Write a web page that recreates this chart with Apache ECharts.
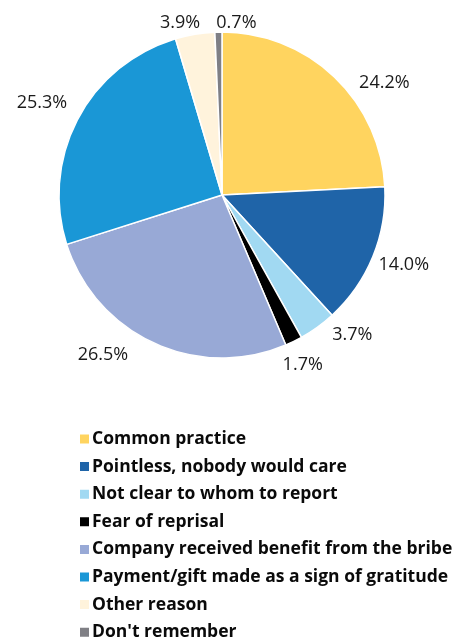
<!DOCTYPE html>
<html><head><meta charset="utf-8">
<script src="https://cdn.jsdelivr.net/npm/echarts@6/dist/echarts.min.js"></script>
<style>html,body{margin:0;padding:0;background:#fff}#c{width:459px;height:639px}</style>
</head><body><div id="c"></div>
<script>
const categories = ["Common practice","Pointless, nobody would care","Not clear to whom to report","Fear of reprisal","Company received benefit from the bribe","Payment/gift made as a sign of gratitude","Other reason","Don't remember"];
const values = [24.2, 14.0, 3.7, 1.7, 26.5, 25.3, 3.9, 0.7];
const colors = ["#FFD45F","#1F64A8","#A1D9F2","#000000","#98A9D6","#1A97D6","#FFF3DC","#7F7F85"];
// label nudges relative to the slice's outer edge point (Excel-style "best fit" placement)
const labelNudge = [[50,6],[31,8],[35,8],[9,23],[-51,12],[-36,-16],[-15,-11],[18,-9]];

const chart = echarts.init(document.getElementById('c'), null, {renderer:'canvas'});
chart.setOption({
  animation:false,
  color: colors,
  legend: {
    orient:'vertical', left:73, top:425, height:400,
    itemWidth:11, itemHeight:11, itemGap:9.6,
    icon:'rect',
    textStyle:{fontFamily:'Open Sans', fontWeight:'bold', fontSize:17.5, color:'#0a0a0a', padding:[0,0,0,-3]},
    data: categories
  },
  series:[{
    type:'pie',
    center:[222,195], radius:[0,163],
    startAngle:90, clockwise:true,
    itemStyle:{borderColor:'#fff', borderWidth:1.5},
    label:{show:true, position:'outside', formatter: p => p.value.toFixed(1)+'%', fontFamily:'Open Sans', fontSize:18, color:'#1a1a1a'},
    labelLine:{show:true, length:5, length2:2, lineStyle:{width:0, opacity:0}},
    labelLayout: function(params){
      const p0 = params.labelLinePoints ? params.labelLinePoints[0] : null;
      if(!p0) return {};
      const n = labelNudge[params.dataIndex];
      return {x:p0[0]+n[0], y:p0[1]+n[1], align:'center', verticalAlign:'middle'};
    },
    data: categories.map((n,i)=>({name:n, value:values[i]}))
  }]
});
</script></body></html>
